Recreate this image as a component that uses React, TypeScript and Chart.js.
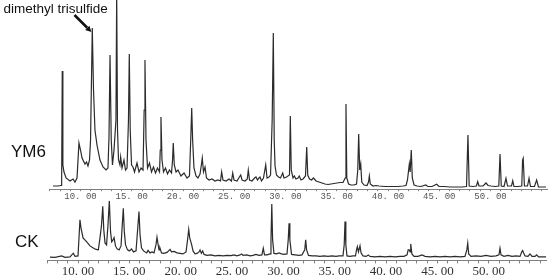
import React, { useEffect, useRef } from "react";
import { Chart, registerables } from "chart.js";

Chart.register(...registerables);

// Retention time (min) and abundance of the YM6 trace
const ym6Time = [
  7.32, 7.8, 8.1, 8.16, 8.22, 8.28, 8.39, 8.59, 8.98, 9.27, 9.46, 9.66, 9.85, 10.0, 10.15, 10.44, 10.59, 10.73, 10.88, 10.98,
  11.15, 11.27, 11.41, 11.61, 11.9, 12.2, 12.49, 12.68, 12.78, 12.88, 13.0, 13.12, 13.27, 13.46, 13.53, 13.61, 13.71, 13.85, 13.92, 14.05,
  14.24, 14.39, 14.54, 14.68, 14.76, 14.85, 14.98, 15.12, 15.27, 15.51, 15.71, 15.9, 16.1, 16.21, 16.29, 16.39, 16.54, 16.73, 16.93, 17.12,
  17.32, 17.51, 17.71, 17.78, 17.85, 17.95, 18.1, 18.29, 18.49, 18.68, 18.88, 18.98, 19.05, 19.15, 19.32, 19.51, 19.8, 20.1, 20.39, 20.63,
  20.76, 20.85, 20.94, 21.07, 21.27, 21.46, 21.66, 21.79, 21.88, 22.0, 22.15, 22.29, 22.54, 22.83, 23.12, 23.41, 23.66, 23.77, 23.9, 24.2,
  24.49, 24.73, 24.85, 24.98, 25.27, 25.5, 25.63, 25.76, 26.05, 26.27, 26.37, 26.49, 26.73, 26.98, 27.12, 27.27, 27.41, 27.51, 27.66, 27.85,
  28.07, 28.2, 28.39, 28.54, 28.7, 28.81, 28.9, 28.98, 29.12, 29.32, 29.51, 29.73, 29.85, 30.1, 30.39, 30.47, 30.56, 30.73, 30.86, 31.02,
  31.22, 31.34, 31.51, 31.71, 31.95, 32.07, 32.17, 32.34, 32.54, 32.73, 32.98, 33.27, 33.56, 33.85, 34.15, 34.44, 34.73, 35.02, 35.32, 35.61,
  35.82, 35.9, 35.98, 36.15, 36.39, 36.68, 36.93, 37.05, 37.14, 37.24, 37.34, 37.44, 37.66, 37.95, 38.1, 38.18, 38.27, 38.54, 38.83, 39.12,
  39.71, 40.39, 40.98, 41.46, 41.76, 41.9, 42.08, 42.16, 42.27, 42.37, 42.54, 42.83, 43.22, 43.68, 43.9, 44.29, 44.75, 44.98, 45.46, 46.05,
  46.63, 47.22, 47.66, 47.8, 47.92, 48.29, 48.63, 48.75, 48.88, 49.27, 49.56, 49.76, 50.05, 50.44, 50.81, 50.93, 51.05, 51.32, 51.51, 51.66,
  52.05, 52.17, 52.29, 52.68, 53.05, 53.13, 53.19, 53.31, 53.61, 53.76, 53.9, 54.29, 54.5, 54.68, 55.12, 55.41,
];
const ym6Abund = [
  2, 2, 2.5, 3, 117, 23, 16, 10, 7, 9, 6, 10, 45, 38, 30, 24, 26, 22, 28, 48,
  160, 98, 58, 43, 28, 21, 18, 20, 51, 133, 48, 23, 38, 68, 195, 58, 28, 23, 31, 20,
  28, 18, 20, 68, 134, 58, 23, 21, 16, 25, 16, 20, 18, 78, 128, 48, 20, 25, 16, 21,
  15, 20, 16, 38, 71, 28, 16, 20, 14, 18, 15, 28, 45, 23, 16, 18, 12, 15, 10, 12,
  50, 80, 48, 20, 12, 10, 14, 23, 30, 16, 21, 10, 8, 9, 7, 8, 7, 16, 8, 7,
  9, 7, 15, 8, 7, 11, 13, 8, 7, 9, 18, 8, 7, 10, 11, 8, 10, 11, 7, 10,
  23, 10, 11, 13, 68, 155, 48, 22, 13, 11, 10, 15, 10, 11, 13, 72, 18, 10, 12, 9,
  10, 12, 8, 9, 12, 41, 13, 9, 8, 10, 7, 6, 5, 4, 3.5, 4, 4.5, 5, 5.5, 5.5,
  10, 84, 10, 4, 3, 3, 4, 18, 54, 18, 24, 6, 3, 2.5, 6, 12, 4, 2, 2.5, 2,
  1.5, 1.5, 1.5, 2, 2.5, 8, 24, 16, 38, 10, 3, 2, 1.5, 3, 1.5, 1.5, 3.7, 1.5, 1.5, 1,
  1, 1, 1.5, 53, 2, 1.5, 2, 6.3, 2, 2, 5, 2.5, 2, 1.5, 2, 34, 2, 1.5, 9.7, 2,
  2, 7.3, 1.5, 1.5, 2, 28, 29.7, 2, 2, 9.7, 1.5, 1.5, 8, 1, 1, 1,
];

// Retention time (min) and abundance of the CK trace
const ckTime = [
  7.27, 7.76, 8.41, 8.73, 9.22, 9.54, 9.71, 10.0, 10.19, 10.29, 10.49, 10.85, 11.17, 11.49, 11.75, 11.98, 12.14, 12.29, 12.41, 12.51,
  12.63, 12.78, 12.92, 13.05, 13.17, 13.28, 13.41, 13.51, 13.65, 13.8, 14.0, 14.19, 14.31, 14.41, 14.51, 14.63, 14.82, 15.01, 15.21, 15.4,
  15.65, 15.84, 15.94, 16.04, 16.18, 16.38, 16.69, 16.82, 17.01, 17.21, 17.4, 17.59, 17.69, 17.79, 17.89, 17.98, 18.13, 18.37, 18.67, 18.96,
  19.1, 19.35, 19.64, 19.93, 20.22, 20.52, 20.69, 20.78, 20.88, 21.07, 21.2, 21.39, 21.59, 21.78, 21.88, 22.01, 22.14, 22.27, 22.56, 22.95,
  23.34, 23.73, 24.12, 24.51, 24.9, 25.19, 25.48, 25.77, 25.94, 26.07, 26.43, 26.75, 27.04, 27.33, 27.62, 27.91, 28.04, 28.16, 28.4, 28.7,
  28.79, 28.87, 28.95, 29.08, 29.33, 29.57, 29.81, 30.06, 30.35, 30.47, 30.55, 30.63, 30.79, 31.14, 31.52, 31.81, 32.08, 32.17, 32.26, 32.44,
  32.79, 33.17, 33.56, 33.95, 34.34, 34.73, 35.12, 35.42, 35.8, 35.92, 36.0, 36.08, 36.19, 36.48, 36.78, 37.02, 37.12, 37.2, 37.31, 37.46,
  37.56, 37.75, 38.05, 38.27, 38.43, 38.92, 39.41, 39.89, 40.38, 40.87, 41.36, 41.74, 42.04, 42.15, 42.26, 42.33, 42.4, 42.51, 42.72, 43.11,
  43.5, 43.79, 44.28, 44.76, 45.25, 45.74, 46.22, 46.71, 47.2, 47.68, 47.86, 47.95, 48.04, 48.27, 48.76, 49.24, 49.73, 50.21, 50.7, 50.99,
  51.09, 51.19, 51.48, 51.87, 52.26, 52.65, 53.04, 53.21, 53.3, 53.39, 53.53, 53.82, 54.01, 54.21, 54.5, 54.66, 54.84, 55.28, 55.57,
];
const ckAbund = [
  1.7, 1.5, 3, 1.5, 2, 5.7, 2.5, 3, 39, 31, 21, 17, 13, 11, 9.5, 9, 21, 34, 52.5, 29,
  16, 14, 34, 58, 27, 17, 19, 21.3, 13, 10, 9, 13, 34, 50.7, 27, 14, 9, 8, 10, 7,
  8, 34, 47.3, 24, 11, 8, 6, 8.5, 6, 7, 6, 14, 21.7, 15, 9, 11, 6, 5.5, 6.5, 9.5,
  7, 7.5, 6, 5.5, 5, 7, 21, 29.5, 21, 14, 8, 5, 5.5, 7, 9, 5.5, 8, 4.5, 3.5, 4,
  3, 3.5, 3, 3.5, 3.2, 4, 3, 4, 5, 3.5, 4, 3, 3.5, 4.5, 3.5, 4, 10.7, 4, 4, 5,
  19, 55, 19, 5.5, 5, 6, 5, 4.5, 5, 19, 35.7, 19, 4.5, 4, 3.5, 4, 9, 19, 9, 3.5,
  3, 3, 2.5, 3, 2.5, 3, 2.5, 3, 3, 14, 37.3, 14, 3, 2.5, 3, 3, 9, 12.3, 7, 13,
  6, 3, 2.5, 4, 2.5, 2, 2.5, 2, 2.5, 2, 2.5, 2.5, 4, 9, 9, 7, 15, 5, 2.5, 2.5,
  4, 2.5, 2, 2.5, 2, 2.5, 2, 2.5, 2, 2.5, 9, 15.7, 5, 2.5, 3, 2.5, 3.5, 2.5, 3, 4,
  10.7, 4, 2.5, 3.5, 2.5, 3, 2.5, 7, 8.3, 6, 3, 2.5, 5, 2.5, 2.5, 4, 2, 2, 2,
];

// Axis ticks
const tickValues = [10, 15, 20, 25, 30, 35, 40, 45, 50];
const tickLabels = ["10. 00", "15. 00", "20. 00", "25. 00", "30. 00", "35. 00", "40. 00", "45. 00", "50. 00"];

// Annotation
const annotationText = "dimethyl trisulfide";
const annotationTime = 11.15;
const annotationAbund = 156;

const sampleNames = ["YM6", "CK"];

function labelFor(value: number): string {
  const i = tickValues.findIndex((v) => Math.abs(v - value) < 1e-6);
  return i >= 0 ? tickLabels[i] : "";
}

function toPoints(t: number[], a: number[]) {
  return t.map((x, i) => ({ x, y: a[i] }));
}

const annotationPlugin = {
  id: "arrowNote",
  afterDraw(chart: any) {
    const ctx = chart.ctx;
    const xs = chart.scales.x;
    const ys = chart.scales.y;
    const tipX = xs.getPixelForValue(annotationTime) - 0.8;
    const tipY = ys.getPixelForValue(annotationAbund);
    const tailX = tipX - 17;
    const tailY = tipY - 17;
    ctx.save();
    ctx.fillStyle = "#111";
    ctx.font = "13.5px 'Liberation Sans', Arial, sans-serif";
    ctx.textBaseline = "alphabetic";
    ctx.textAlign = "left";
    ctx.fillText(annotationText, 3.5, 13);
    const ang = Math.atan2(tipY - tailY, tipX - tailX);
    const headLen = 6;
    const bx = tipX - headLen * Math.cos(ang);
    const by = tipY - headLen * Math.sin(ang);
    ctx.strokeStyle = "#111";
    ctx.lineWidth = 2.6;
    ctx.beginPath();
    ctx.moveTo(tailX, tailY);
    ctx.lineTo(bx, by);
    ctx.stroke();
    ctx.beginPath();
    ctx.moveTo(tipX, tipY);
    ctx.lineTo(bx + 3 * Math.sin(ang), by - 3 * Math.cos(ang));
    ctx.lineTo(bx - 3 * Math.sin(ang), by + 3 * Math.cos(ang));
    ctx.closePath();
    ctx.fill();
    ctx.restore();
  },
};

function makeConfig(points: any[], opts: any, plugins: any[]) {
  return {
    type: "line" as const,
    data: {
      datasets: [
        {
          data: points,
          borderColor: "#2b2b2b",
          borderWidth: 1.2,
          pointRadius: 0,
          tension: 0,
          fill: false,
        },
      ],
    },
    options: {
      responsive: false,
      maintainAspectRatio: false,
      animation: false,
      parsing: false,
      layout: { padding: opts.padding },
      plugins: { legend: { display: false }, tooltip: { enabled: false } },
      scales: {
        x: {
          type: "linear",
          min: 7,
          max: 55.6,
          border: { display: true, color: "#808080", width: 1 },
          grid: { drawOnChartArea: false, drawTicks: true, tickLength: opts.tickLength, color: "#808080" },
          ticks: {
            stepSize: 1,
            autoSkip: false,
            includeBounds: false,
            maxRotation: 0,
            minRotation: 0,
            padding: 0,
            color: opts.tickColor,
            font: opts.font,
            callback: (v: any) => labelFor(Number(v)),
          },
        },
        y: { display: false, min: opts.yMin, max: opts.yMax },
      },
    },
    plugins,
  };
}

export default function App() {
  const topRef = useRef<HTMLCanvasElement>(null);
  const botRef = useRef<HTMLCanvasElement>(null);

  useEffect(() => {
    document.body.style.margin = "0";
    const top = new Chart(
      topRef.current!,
      makeConfig(
        toPoints(ym6Time, ym6Abund),
        {
          padding: { left: 49.75, right: 2.1, top: 0, bottom: 0 },
          tickLength: 2,
          tickColor: "#555",
          font: { family: "'Liberation Mono', monospace", size: 9 },
          yMin: -1.2,
          yMax: 188,
        },
        [annotationPlugin]
      ) as any
    );
    const bot = new Chart(
      botRef.current!,
      makeConfig(
        toPoints(ckTime, ckAbund),
        {
          padding: { left: 47.2, right: 3.7, top: 2, bottom: 0 },
          tickLength: 3,
          tickColor: "#333",
          font: { family: "'Liberation Serif', serif", size: 13 },
          yMin: -1.5,
          yMax: 59.9,
        },
        []
      ) as any
    );
    return () => {
      top.destroy();
      bot.destroy();
    };
  }, []);

  const labelStyle: React.CSSProperties = {
    position: "absolute",
    fontFamily: "'Liberation Sans', Arial, sans-serif",
    fontSize: 17,
    color: "#111",
    lineHeight: "17px",
  };

  return (
    <div style={{ position: "fixed", left: 0, top: 0, width: 550, height: 279, background: "#fff", overflow: "hidden" }}>
      <canvas ref={topRef} width={550} height={202} style={{ position: "absolute", left: 0, top: 0, display: "block" }} />
      <canvas ref={botRef} width={550} height={82} style={{ position: "absolute", left: 0, top: 197, display: "block" }} />
      <div style={{ ...labelStyle, left: 11, top: 143 }}>{sampleNames[0]}</div>
      <div style={{ ...labelStyle, left: 15, top: 233 }}>{sampleNames[1]}</div>
    </div>
  );
}
